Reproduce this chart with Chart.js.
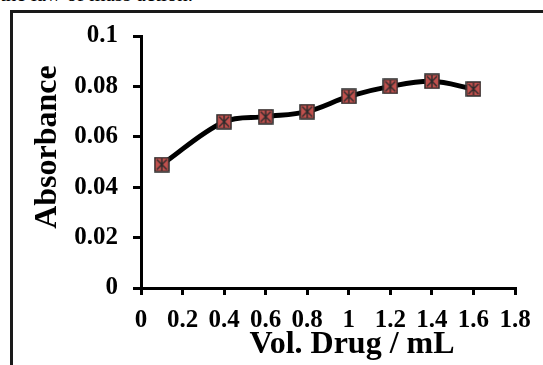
<!DOCTYPE html>
<html>
<head>
<meta charset="utf-8">
<script src="https://cdn.jsdelivr.net/npm/chart.js@4"></script>
<style>
  body { margin: 0; background: #fff; }
  #wrap { position: relative; width: 543px; height: 365px; overflow: hidden; }
  #caption {
    position: absolute; left: 0; top: -16px; margin: 0;
    font: 21px/21px "Liberation Serif", "Times New Roman", serif;
    color: #000; white-space: nowrap;
  }
  #frame {
    position: absolute; left: 10px; top: 10px; width: 540px; height: 360px;
    border-left: 3px solid #1a1a1a; border-top: 3px solid #1a1a1a;
  }
  canvas { position: absolute; left: 0; top: 0; }
</style>
</head>
<body>
<div id="wrap">
  <p id="caption">the law of mass action.</p>
  <div id="frame"></div>
  <canvas id="chart" width="543" height="365"></canvas>
</div>
<script>
// Absorbance vs volume of drug added
const volumes = [0.1, 0.4, 0.6, 0.8, 1.0, 1.2, 1.4, 1.6];
const absorbance = [0.049, 0.066, 0.068, 0.070, 0.076, 0.080, 0.082, 0.079];
const xTicks = [0, 0.2, 0.4, 0.6, 0.8, 1, 1.2, 1.4, 1.6, 1.8];
const yTicks = [0, 0.02, 0.04, 0.06, 0.08, 0.1];
const xTitle = "Vol. Drug / mL";
const yTitle = "Absorbance";

const tickFont = { family: "'Liberation Serif', 'Times New Roman', serif", size: 25, weight: "bold" };
const titleFont = "bold 32px 'Liberation Serif', 'Times New Roman', serif";

// square marker with an asterisk through it
function makeMarker() {
  const s = 16;
  const c = document.createElement("canvas");
  c.width = s;
  c.height = s;
  const g = c.getContext("2d");
  g.fillStyle = "#c0504d";
  g.fillRect(1, 1, s - 2, s - 2);
  g.strokeStyle = "#2b2b2b";
  g.lineWidth = 1.5;
  g.strokeRect(1, 1, s - 2, s - 2);
  g.lineWidth = 1.4;
  g.beginPath();
  g.moveTo(3, 3); g.lineTo(s - 3, s - 3);
  g.moveTo(s - 3, 3); g.lineTo(3, s - 3);
  g.moveTo(s / 2, 2); g.lineTo(s / 2, s - 2);
  g.stroke();
  return c;
}

// axis titles placed by hand
const axisTitles = {
  id: "axisTitles",
  afterDraw(chart) {
    const ctx = chart.ctx;
    ctx.save();
    ctx.fillStyle = "#000";
    ctx.font = titleFont;
    ctx.textAlign = "center";
    ctx.textBaseline = "middle";
    ctx.fillText(xTitle, 352, 345);
    ctx.translate(48, 147);
    ctx.rotate(-Math.PI / 2);
    ctx.fillText(yTitle, 0, 0);
    ctx.restore();
  },
};

new Chart(document.getElementById("chart"), {
  type: "line",
  data: {
    datasets: [
      {
        data: volumes.map((v, i) => ({ x: v, y: absorbance[i] })),
        borderColor: "#000",
        borderWidth: 5,
        tension: 0.35,
        pointStyle: makeMarker(),
        pointRadius: 8,
      },
    ],
  },
  options: {
    responsive: false,
    animation: false,
    layout: { padding: { top: 36, right: 28, left: 0, bottom: 0 } },
    plugins: { legend: { display: false }, tooltip: { enabled: false } },
    scales: {
      x: {
        type: "linear",
        min: 0,
        max: 1.8,
        afterBuildTicks: (scale) => { scale.ticks = xTicks.map((v) => ({ value: v })); },
        afterFit: (scale) => { scale.height = 77; },
        border: { display: true, color: "#000", width: 3 },
        grid: { drawOnChartArea: false, drawTicks: true, tickLength: 7, color: "#000", lineWidth: 3 },
        ticks: { color: "#000", font: tickFont, padding: 11, maxRotation: 0, autoSkip: false, callback: (v) => String(v) },
      },
      y: {
        min: 0,
        max: 0.1,
        afterBuildTicks: (scale) => { scale.ticks = yTicks.map((v) => ({ value: v })); },
        afterFit: (scale) => { scale.width = 141; },
        border: { display: true, color: "#000", width: 3 },
        grid: { drawOnChartArea: false, drawTicks: true, tickLength: 8, color: "#000", lineWidth: 3 },
        ticks: { color: "#000", font: tickFont, padding: 15, callback: (v) => String(v) },
      },
    },
  },
  plugins: [axisTitles],
});
</script>
</body>
</html>
